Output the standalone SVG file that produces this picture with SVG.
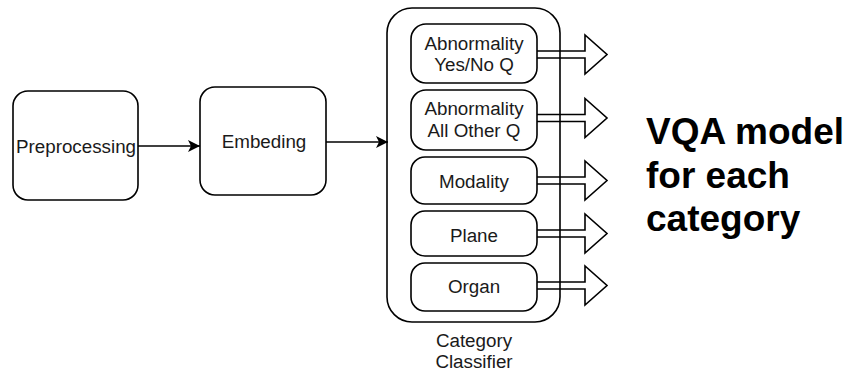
<svg xmlns="http://www.w3.org/2000/svg" width="849" height="375" viewBox="0 0 849 375">
<defs>
<style>
.box{fill:#fff;stroke:#000;stroke-width:1.6}
.t{font-family:"Liberation Sans",Arial,sans-serif;font-size:18.8px;fill:#1a1a1a;text-anchor:middle}
.big{font-family:"Liberation Sans",Arial,sans-serif;font-size:37px;font-weight:bold;fill:#000}
.edge{fill:none;stroke:#000;stroke-width:1.6}
.blk{fill:none;stroke:#000;stroke-width:1.6;stroke-linejoin:miter}
</style>
<marker id="ah" viewBox="0 0 10 10" refX="10" refY="5" markerWidth="12" markerHeight="12" markerUnits="userSpaceOnUse" orient="auto">
<path d="M0,0 L10,5 L0,10 L2.5,5 Z" fill="#000"/>
</marker>
</defs>
<rect width="849" height="375" fill="#fff"/>
<g id="preprocessing">
<rect class="box" x="13" y="91" width="125" height="109" rx="15"/>
<text class="t" x="76" y="153">Preprocessing</text>
</g>
<g id="embeding">
<rect class="box" x="200" y="87" width="126" height="108" rx="15"/>
<text class="t" x="264" y="148">Embeding</text>
</g>
<g id="classifier">
<rect class="box" x="387" y="8" width="173" height="314" rx="25"/>
<text class="t" x="474" y="347">Category</text>
<text class="t" x="474" y="368">Classifier</text>
</g>
<g id="abn-yesno">
<rect class="box" x="411" y="24" width="126" height="59" rx="15"/>
<text class="t" x="474" y="50">Abnormality</text>
<text class="t" x="474" y="71">Yes/No Q</text>
</g>
<g id="abn-other">
<rect class="box" x="411" y="90" width="126" height="60" rx="15"/>
<text class="t" x="474" y="115">Abnormality</text>
<text class="t" x="474" y="137">All Other Q</text>
</g>
<g id="modality">
<rect class="box" x="411" y="157" width="126" height="47" rx="14"/>
<text class="t" x="474" y="188">Modality</text>
</g>
<g id="plane">
<rect class="box" x="411" y="211" width="126" height="45" rx="14"/>
<text class="t" x="474" y="242">Plane</text>
</g>
<g id="organ">
<rect class="box" x="411" y="263" width="126" height="48" rx="14"/>
<text class="t" x="474" y="293">Organ</text>
</g>
<g id="connectors">
<line class="edge" x1="138" y1="146" x2="200" y2="146" marker-end="url(#ah)"/>
<line class="edge" x1="326" y1="142" x2="388" y2="142" marker-end="url(#ah)"/>
<path class="blk" d="M537,51 H585 V35 L607,54.5 L585,74 V58 H537"/>
<path class="blk" d="M537,114.5 H585 V98.5 L607,118 L585,137.5 V121.5 H537"/>
<path class="blk" d="M537,177 H585 V161 L607,180.5 L585,200 V184 H537"/>
<path class="blk" d="M537,230 H585 V214 L607,233.5 L585,253 V237 H537"/>
<path class="blk" d="M537,282 H585 V266 L607,285.5 L585,305 V289 H537"/>
</g>
<g id="label">
<text class="big" x="646" y="144">VQA model</text>
<text class="big" x="646" y="188">for each</text>
<text class="big" x="646" y="231">category</text>
</g>
</svg>
